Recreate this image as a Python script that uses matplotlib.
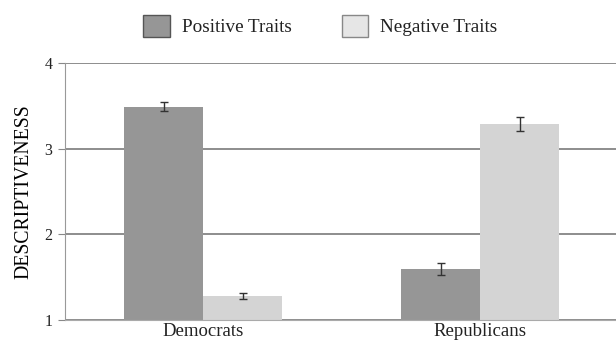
import matplotlib.pyplot as plt
import numpy as np
from matplotlib.patches import Patch

groups = ["Democrats", "Republicans"]
positive = [3.49, 1.60]
negative = [1.28, 3.29]
positive_err = [0.055, 0.07]
negative_err = [0.04, 0.08]

plt.rcParams['font.family'] = ['Liberation Serif', 'DejaVu Serif']
plt.rcParams['text.color'] = '#222222'

fig = plt.figure(figsize=(6.16, 3.46), dpi=100)
ax = fig.add_axes([0.1055, 0.075, 0.8945, 0.743])

x = np.arange(len(groups))
w = 0.285
ax.bar(x - w / 2, positive, w, color='#969696', zorder=2)
ax.bar(x + w / 2, negative, w, color='#d4d4d4', zorder=2)
ax.errorbar(x - w / 2, positive, yerr=positive_err, fmt='none', ecolor='#333333',
            elinewidth=1, capsize=3, capthick=1, zorder=3)
ax.errorbar(x + w / 2, negative, yerr=negative_err, fmt='none', ecolor='#333333',
            elinewidth=1, capsize=3, capthick=1, zorder=3)

ax.set_ylim(1, 4)
ax.set_xlim(-0.498, 1.49)
ax.set_yticks([1, 2, 3, 4])
ax.set_xticks(x)
ax.set_xticklabels(groups, fontsize=13.5, color='#222222')
ax.tick_params(axis='x', length=0, pad=2)
ax.tick_params(axis='y', length=5, color='#888888', labelsize=11.5, pad=4,
               labelcolor='#222222')
ax.yaxis.grid(True, color='#7a7a7a', linewidth=1.2, zorder=1)
ax.set_axisbelow(True)

for s in ['top', 'right']:
    ax.spines[s].set_visible(False)
ax.spines['left'].set_color('#999999')
ax.spines['bottom'].set_color('#aaaaaa')
ax.spines['bottom'].set_zorder(4)

ax.set_ylabel("DESCRIPTIVENESS", fontsize=14.2, labelpad=8)

handles = [Patch(facecolor='#969696', edgecolor='#555555', label='Positive Traits'),
           Patch(facecolor='#e6e6e6', edgecolor='#888888', label='Negative Traits')]
fig.legend(handles=handles, loc='center', bbox_to_anchor=(0.52, 0.925), ncol=2,
           frameon=False, fontsize=13.8, handlelength=1.39, handleheight=1.39,
           handletextpad=0.64, columnspacing=2.6)

fig.savefig("out.png", dpi=100)
